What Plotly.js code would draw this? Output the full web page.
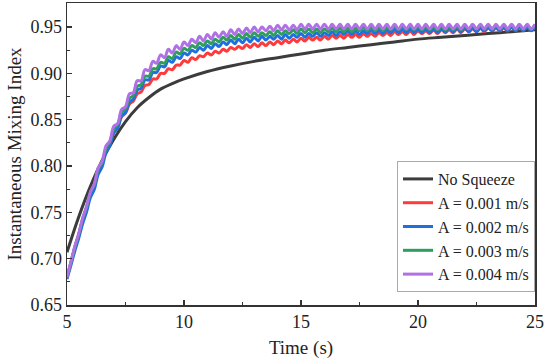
<!DOCTYPE html>
<html>
<head>
<meta charset="utf-8">
<script src="https://cdn.plot.ly/plotly-3.0.1.min.js"></script>
<style>html,body{margin:0;padding:0;background:#fff;}#chart{width:550px;height:363px;}</style>
</head>
<body>
<div id="chart"></div>
<script>
// Time samples (s) for oscillating series
const time = [5,5.17,5.33,5.5,5.67,5.83,6,6.17,6.33,6.5,6.67,6.83,7,7.17,7.33,7.5,7.67,7.83,8,8.17,8.33,8.5,8.67,8.83,
  9,9.17,9.33,9.5,9.67,9.83,10,10.17,10.33,10.5,10.67,10.83,11,11.17,11.33,11.5,11.67,11.83,12,12.17,12.33,12.5,12.67,12.83,
  13,13.17,13.33,13.5,13.67,13.83,14,14.17,14.33,14.5,14.67,14.83,15,15.17,15.33,15.5,15.67,15.83,16,16.17,16.33,16.5,16.67,16.83,
  17,17.17,17.33,17.5,17.67,17.83,18,18.17,18.33,18.5,18.67,18.83,19,19.17,19.33,19.5,19.67,19.83,20,20.17,20.33,20.5,20.67,20.83,
  21,21.17,21.33,21.5,21.67,21.83,22,22.17,22.33,22.5,22.67,22.83,23,23.17,23.33,23.5,23.67,23.83,24,24.17,24.33,24.5,24.67,24.83,25];

const timeNoSqueeze = [5,5.5,6,6.5,7,7.5,8,8.5,9,9.5,10,11,12,13,14,15,16,17,18,19,20,21,22,23,24,25];
const noSqueeze = [0.707,0.745,0.778,0.806,0.829,0.848,0.863,0.874,0.883,0.889,0.894,0.902,0.908,0.913,0.917,0.921,0.925,0.928,0.931,0.934,0.937,0.939,0.941,0.943,0.945,0.947];

const a001 = [0.680,0.696,0.712,0.726,0.742,0.754,0.770,0.780,0.795,0.803,0.817,0.824,0.836,0.842,0.853,0.857,0.867,0.870,0.878,0.880,
  0.887,0.888,0.894,0.894,0.900,0.900,0.905,0.904,0.909,0.909,0.914,0.912,0.917,0.915,0.919,0.918,0.922,0.920,0.924,0.922,
  0.926,0.924,0.928,0.926,0.929,0.927,0.931,0.928,0.932,0.929,0.933,0.930,0.934,0.931,0.935,0.932,0.936,0.933,0.937,0.934,
  0.938,0.935,0.939,0.936,0.939,0.936,0.940,0.937,0.941,0.938,0.941,0.938,0.942,0.939,0.942,0.939,0.943,0.940,0.943,0.940,
  0.944,0.941,0.944,0.941,0.945,0.942,0.945,0.942,0.946,0.942,0.946,0.943,0.946,0.943,0.947,0.943,0.947,0.944,0.947,0.944,
  0.948,0.944,0.948,0.945,0.948,0.945,0.949,0.945,0.949,0.946,0.949,0.946,0.949,0.946,0.950,0.946,0.950,0.946,0.950,0.947,0.950];

const a002 = [0.678,0.693,0.708,0.722,0.738,0.750,0.766,0.775,0.791,0.799,0.815,0.822,0.836,0.841,0.854,0.858,0.869,0.872,0.882,0.884,
  0.893,0.893,0.901,0.901,0.908,0.907,0.914,0.912,0.918,0.916,0.922,0.920,0.925,0.923,0.928,0.925,0.930,0.927,0.932,0.929,
  0.934,0.931,0.936,0.932,0.937,0.933,0.938,0.934,0.939,0.935,0.940,0.936,0.940,0.937,0.941,0.937,0.942,0.938,0.942,0.939,
  0.943,0.939,0.943,0.940,0.944,0.940,0.944,0.941,0.945,0.941,0.945,0.942,0.946,0.942,0.946,0.942,0.946,0.943,0.947,0.943,
  0.947,0.943,0.947,0.944,0.948,0.944,0.948,0.944,0.948,0.944,0.948,0.944,0.948,0.944,0.948,0.944,0.948,0.945,0.949,0.945,
  0.949,0.945,0.949,0.945,0.949,0.945,0.949,0.946,0.950,0.946,0.950,0.946,0.950,0.946,0.950,0.946,0.950,0.946,0.950,0.946,0.950];

const a003 = [0.680,0.696,0.712,0.726,0.743,0.755,0.771,0.780,0.796,0.804,0.819,0.826,0.840,0.845,0.858,0.862,0.873,0.876,0.886,0.888,
  0.897,0.897,0.905,0.905,0.912,0.911,0.918,0.916,0.923,0.921,0.927,0.925,0.930,0.928,0.933,0.930,0.935,0.932,0.937,0.934,
  0.939,0.936,0.941,0.937,0.942,0.938,0.943,0.939,0.944,0.940,0.944,0.941,0.945,0.941,0.946,0.942,0.946,0.943,0.947,0.943,
  0.948,0.944,0.948,0.944,0.948,0.944,0.948,0.945,0.949,0.945,0.949,0.945,0.949,0.945,0.949,0.946,0.950,0.946,0.950,0.946,
  0.950,0.946,0.950,0.947,0.951,0.947,0.951,0.947,0.951,0.947,0.951,0.947,0.951,0.947,0.951,0.947,0.951,0.947,0.951,0.947,
  0.951,0.947,0.951,0.948,0.952,0.948,0.952,0.948,0.952,0.948,0.952,0.948,0.952,0.948,0.952,0.948,0.952,0.948,0.952,0.948,0.952];

const a004 = [0.680,0.697,0.713,0.727,0.744,0.756,0.772,0.781,0.798,0.805,0.822,0.827,0.843,0.846,0.861,0.864,0.878,0.879,0.892,0.892,
  0.904,0.903,0.913,0.911,0.920,0.917,0.926,0.922,0.930,0.926,0.934,0.930,0.937,0.933,0.940,0.935,0.942,0.937,0.944,0.939,
  0.945,0.940,0.947,0.942,0.948,0.943,0.949,0.944,0.950,0.945,0.950,0.946,0.951,0.946,0.952,0.947,0.952,0.947,0.952,0.947,
  0.953,0.948,0.953,0.948,0.953,0.948,0.953,0.948,0.953,0.948,0.953,0.948,0.953,0.948,0.953,0.948,0.953,0.948,0.953,0.948,
  0.953,0.948,0.953,0.948,0.953,0.948,0.953,0.948,0.953,0.948,0.953,0.948,0.953,0.948,0.953,0.948,0.953,0.948,0.953,0.948,
  0.953,0.948,0.953,0.948,0.953,0.948,0.953,0.948,0.953,0.948,0.953,0.948,0.953,0.948,0.953,0.948,0.953,0.948,0.953,0.948,0.953];

const seriesNames = ['No Squeeze','A = 0.001 m/s','A = 0.002 m/s','A = 0.003 m/s','A = 0.004 m/s'];
const seriesColors = ['#3c3c3c','#ff3a3a','#1f6fe0','#2e9e5c','#b070e6'];
const xTicks = [5,10,15,20,25];
const yTicks = [0.65,0.70,0.75,0.80,0.85,0.90,0.95];

const font = 'Liberation Serif, Times New Roman, serif';
const ys = [noSqueeze,a001,a002,a003,a004];
const traces = ys.map((y,i)=>({
  type:'scatter', mode:'lines',
  x: i===0 ? timeNoSqueeze : time, y: y,
  name: seriesNames[i],
  line:{color:seriesColors[i], width:3, shape:'spline', smoothing:1}
}));

const axisCommon = {
  showgrid:false, zeroline:false, showline:true, mirror:true,
  linecolor:'#333', linewidth:1.5,
  ticks:'inside', ticklen:5, tickwidth:1.2, tickcolor:'#333',
  tickfont:{family:font, size:18, color:'#222'}
};

const layout = {
  width:550, height:363,
  margin:{l:67, r:15, t:3, b:58},
  paper_bgcolor:'#fff', plot_bgcolor:'#fff',
  font:{family:font, color:'#222'},
  showlegend:true,
  legend:{x:1, xanchor:'right', y:0.043, yanchor:'bottom',
    bgcolor:'#fff', bordercolor:'#aaa', borderwidth:1,
    font:{family:font, size:16, color:'#222'}, tracegroupgap:0},
  xaxis:Object.assign({}, axisCommon, {
    range:[5,25], tickmode:'array', tickvals:xTicks, ticktext:xTicks.map(String),
    minor:{ticks:'inside', ticklen:3, dtick:2.5, tickcolor:'#333', showgrid:false},
    title:{text:'Time (s)', font:{family:font, size:19, color:'#222'}, standoff:9}
  }),
  yaxis:Object.assign({}, axisCommon, {
    range:[0.65,0.976], tickmode:'array', tickvals:yTicks, ticktext:yTicks.map(v=>v.toFixed(2)),
    minor:{ticks:'inside', ticklen:3, dtick:0.025, tickcolor:'#333', showgrid:false},
    title:{text:'Instantaneous Mixing Index', font:{family:font, size:19, color:'#222'}, standoff:4}
  })
};

Plotly.newPlot('chart', traces, layout, {displayModeBar:false, staticPlot:true});
</script>
</body>
</html>
